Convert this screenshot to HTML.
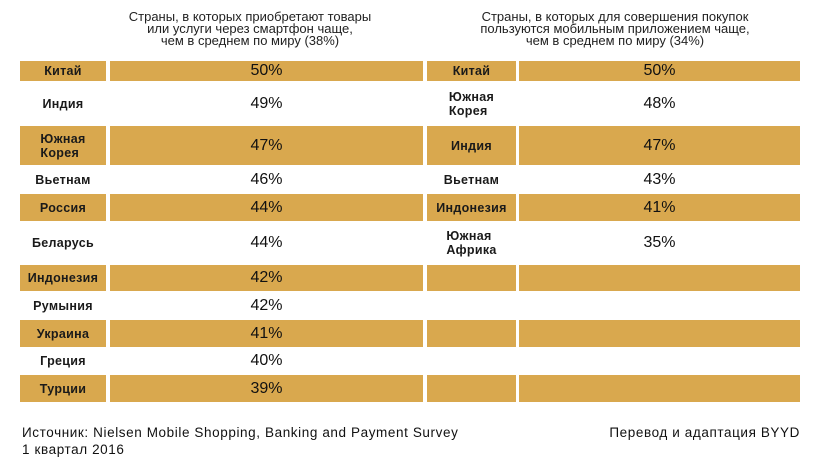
<!DOCTYPE html>
<html><head><meta charset="utf-8">
<style>
body{margin:0;width:821px;height:463px;background:#fff;font-family:"Liberation Sans","DejaVu Sans",sans-serif;color:#111;position:relative;overflow:hidden}
.t{position:absolute;text-align:center;font-size:13px;line-height:12px;color:#222}
.cell{position:absolute;display:flex;align-items:center;justify-content:center;box-sizing:border-box}
.lab{font-size:12.5px;font-weight:bold;line-height:14px;text-align:left;color:#1a1a1a;letter-spacing:0.3px}
.val{font-size:16px;color:#111}
.foot{position:absolute;font-size:13.5px;line-height:17px;color:#111;letter-spacing:0.6px}
</style></head><body>
<div class="t" style="left:100px;width:300px;top:11px">Страны, в которых приобретают товары<br>или услуги через смартфон чаще,<br>чем в среднем по миру (38%)</div>
<div class="t" style="left:460px;width:310px;top:11px">Страны, в которых для совершения покупок<br>пользуются мобильным приложением чаще,<br>чем в среднем по миру (34%)</div>
<div id="tables"></div>
<div class="foot" style="left:22px;top:424px">Источник: Nielsen Mobile Shopping, Banking and Payment Survey<br>1 квартал 2016</div>
<div class="foot" style="right:21px;top:424px">Перевод и адаптация BYYD</div>
<script>
const leftCountries=["Китай","Индия","Южная<br>Корея","Вьетнам","Россия","Беларусь","Индонезия","Румыния","Украина","Греция","Турции"];
const leftValues=[50,49,47,46,44,44,42,42,41,40,39];
const rightCountries=["Китай","Южная<br>Корея","Индия","Вьетнам","Индонезия","Южная<br>Африка"];
const rightValues=[50,48,47,43,41,35];
const rowEdges=[61,81,126,165,194,221,265,291,320,347,375,402];
const gold="#D9A84E";
const root=document.getElementById('tables');
function table(countries,values,lx,lw,vx,vw){
  for(let i=0;i<rowEdges.length-1;i++){
    const top=rowEdges[i],h=rowEdges[i+1]-top,g=i%2===0;
    const has=i<countries.length;
    const a=document.createElement('div');
    a.className='cell lab';
    
    
    a.style.cssText=`left:${lx}px;width:${lw}px;top:${top}px;height:${h}px;background:${g?gold:'#fff'}`;
    a.innerHTML=has?`<span>${countries[i]}</span>`:'';
    root.appendChild(a);
    const b=document.createElement('div');
    b.className='cell val';
    
    
    b.style.cssText=`left:${vx}px;width:${vw}px;top:${top}px;height:${h}px;background:${g?gold:'#fff'}`;
    b.textContent=has?values[i]+'%':'';
    root.appendChild(b);
  }
}
table(leftCountries,leftValues,20,86,110,313);
table(rightCountries,rightValues,427,89,519,281);
</script>
</body></html>
